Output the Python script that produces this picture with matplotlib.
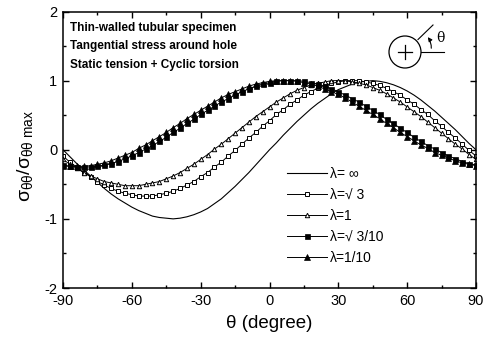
import matplotlib
matplotlib.use("Agg")
import matplotlib.pyplot as plt
from matplotlib.patches import Circle, FancyArrowPatch
from matplotlib.ticker import MultipleLocator

plt.rcParams['font.family'] = ['Liberation Sans', 'DejaVu Sans']
plt.rcParams['mathtext.fontset'] = 'custom'
plt.rcParams['mathtext.rm'] = 'Liberation Sans'
plt.rcParams['mathtext.it'] = 'Liberation Sans'
plt.rcParams['axes.unicode_minus'] = False

theta = list(range(-90, 91, 3))

lam_inf = [0.00, -0.10, -0.20, -0.29, -0.38, -0.47, -0.56, -0.64, -0.71, -0.77,
           -0.83, -0.88, -0.92, -0.96, -0.98, -0.99, -1.00, -0.99, -0.97, -0.94,
           -0.90, -0.85, -0.78, -0.71, -0.62, -0.53, -0.43, -0.33, -0.22, -0.11,
           0.00, 0.10, 0.21, 0.31, 0.41, 0.50, 0.59, 0.67, 0.74, 0.81,
           0.87, 0.91, 0.95, 0.98, 0.99, 1.00, 0.99, 0.97, 0.94, 0.90,
           0.85, 0.79, 0.72, 0.64, 0.56, 0.47, 0.38, 0.29, 0.19, 0.09, 0.00]

lam_sqrt3 = [-0.09, -0.18, -0.25, -0.33, -0.39, -0.46, -0.51, -0.56, -0.60, -0.63,
             -0.65, -0.67, -0.67, -0.67, -0.65, -0.63, -0.60, -0.56, -0.51, -0.46,
             -0.39, -0.33, -0.25, -0.18, -0.09, -0.01, 0.08, 0.17, 0.25, 0.34,
             0.42, 0.51, 0.58, 0.66, 0.72, 0.79, 0.84, 0.89, 0.93, 0.96,
             0.98, 1.00, 1.00, 1.00, 0.98, 0.96, 0.93, 0.89, 0.84, 0.79,
             0.72, 0.66, 0.58, 0.51, 0.42, 0.34, 0.25, 0.17, 0.08, -0.01, -0.09]

lam_1 = [-0.14, -0.21, -0.27, -0.33, -0.38, -0.42, -0.46, -0.48, -0.50, -0.52,
         -0.52, -0.52, -0.50, -0.48, -0.46, -0.42, -0.38, -0.33, -0.27, -0.21,
         -0.14, -0.07, 0.01, 0.08, 0.16, 0.24, 0.32, 0.40, 0.48, 0.55,
         0.62, 0.69, 0.75, 0.81, 0.86, 0.90, 0.94, 0.96, 0.98, 1.00,
         1.00, 1.00, 0.98, 0.96, 0.94, 0.90, 0.86, 0.81, 0.75, 0.69,
         0.62, 0.55, 0.48, 0.40, 0.32, 0.24, 0.16, 0.08, 0.01, -0.07, -0.14]

lam_sqrt3_10 = [-0.22, -0.24, -0.25, -0.25, -0.25, -0.24, -0.22, -0.20, -0.17, -0.13,
                -0.09, -0.04, 0.01, 0.06, 0.12, 0.18, 0.25, 0.31, 0.38, 0.44,
                0.51, 0.57, 0.63, 0.69, 0.74, 0.79, 0.84, 0.88, 0.92, 0.95,
                0.97, 0.99, 1.00, 1.00, 1.00, 0.99, 0.97, 0.95, 0.92, 0.88,
                0.84, 0.79, 0.74, 0.69, 0.63, 0.57, 0.51, 0.44, 0.38, 0.31,
                0.25, 0.18, 0.12, 0.06, 0.01, -0.04, -0.09, -0.13, -0.17, -0.20, -0.22]

lam_1_10 = [-0.23, -0.24, -0.24, -0.24, -0.23, -0.21, -0.19, -0.16, -0.12, -0.08,
            -0.04, 0.02, 0.07, 0.13, 0.19, 0.25, 0.32, 0.38, 0.45, 0.51,
            0.57, 0.63, 0.69, 0.75, 0.80, 0.84, 0.88, 0.92, 0.95, 0.97,
            0.99, 1.00, 1.00, 1.00, 0.99, 0.97, 0.95, 0.92, 0.88, 0.84,
            0.80, 0.75, 0.69, 0.63, 0.57, 0.51, 0.45, 0.38, 0.32, 0.25,
            0.19, 0.13, 0.07, 0.02, -0.04, -0.08, -0.12, -0.16, -0.19, -0.21, -0.23]

labels = ['λ= ∞', 'λ=√ 3', 'λ=1', 'λ=√ 3/10', 'λ=1/10']
info_lines = ['Thin-walled tubular specimen', 'Tangential stress around hole',
              'Static tension + Cyclic torsion']

W, H = 488, 343
fig = plt.figure(figsize=(W / 100, H / 100), dpi=100)
x0, x1, y0, y1 = 63, 476, 11.5, 288
ax = fig.add_axes([x0 / W, 1 - y1 / H, (x1 - x0) / W, (y1 - y0) / H])

lw = 0.7
ax.plot(theta, lam_inf, '-', color='black', lw=0.8, label=labels[0])
ax.plot(theta, lam_sqrt3, '-', color='black', lw=lw, marker='s', ms=3.2,
        mfc='white', mec='black', mew=0.7, label=labels[1])
ax.plot(theta, lam_1, '-', color='black', lw=lw, marker='^', ms=3.2,
        mfc='white', mec='black', mew=0.7, label=labels[2])
ax.plot(theta, lam_sqrt3_10, '-', color='black', lw=lw, marker='s', ms=3.6,
        mfc='black', mec='black', mew=0.5, label=labels[3])
ax.plot(theta, lam_1_10, '-', color='black', lw=lw, marker='^', ms=4.2,
        mfc='black', mec='black', mew=0.5, label=labels[4])

ax.set_xlim(-90, 90)
ax.set_ylim(-2, 2)
ax.xaxis.set_major_locator(MultipleLocator(30))
ax.xaxis.set_minor_locator(MultipleLocator(15))
ax.yaxis.set_major_locator(MultipleLocator(1))
ax.yaxis.set_minor_locator(MultipleLocator(0.5))
ax.tick_params(which='both', direction='in', top=True, right=True,
               labelsize=10.5, width=1.0)
ax.tick_params(axis='x', pad=4)
ax.tick_params(axis='y', pad=4)
ax.tick_params(which='major', length=4)
ax.tick_params(which='minor', length=2)
for s in ax.spines.values():
    s.set_linewidth(1.1)

ax.set_xlabel('θ (degree)', fontsize=13.5, labelpad=5)

fig.text(25 / W, 1 - 156 / H,
         r'$\sigma_{\theta\theta}/\sigma_{\theta\theta\ \mathrm{max}}$',
         rotation=90, ha='center', va='center', fontsize=14)

for i, t in enumerate(info_lines):
    ax.text(0.017, 0.94 - i * 0.066, t, transform=ax.transAxes,
            fontsize=8.5, fontweight='bold', ha='left', va='center')

leg = ax.legend(loc='upper left', bbox_to_anchor=(0.542, 0.437), frameon=False,
                fontsize=10, handlelength=2.9, handletextpad=0.2,
                labelspacing=0.5, borderpad=0, borderaxespad=0, numpoints=1)

# hole sketch in pixel coordinates
ov = fig.add_axes([0, 0, 1, 1])
ov.set_xlim(0, W)
ov.set_ylim(H, 0)
ov.axis('off')
cx, cy, r = 405, 52, 16
ov.add_patch(Circle((cx, cy), r, fill=False, ec='black', lw=0.9))
ov.plot([cx - 7, cx + 7], [cy, cy], color='black', lw=0.9)
ov.plot([cx, cx], [cy - 7, cy + 7], color='black', lw=0.9)
ov.plot([cx + r, cx + 39], [cy, cy], color='black', lw=0.8)
ov.plot([cx + 13, cx + 28], [cy - 12.5, cy - 27], color='black', lw=0.8)
arr = FancyArrowPatch((cx + 26, cy - 1), (cx + 21, cy - 17),
                      connectionstyle='arc3,rad=0.25', arrowstyle='-|>',
                      mutation_scale=6, color='black', lw=0.8)
ov.add_patch(arr)
ov.text(440, 38, 'θ', fontsize=10, family='DejaVu Serif', ha='center', va='center')

fig.savefig('out.png', dpi=100)
